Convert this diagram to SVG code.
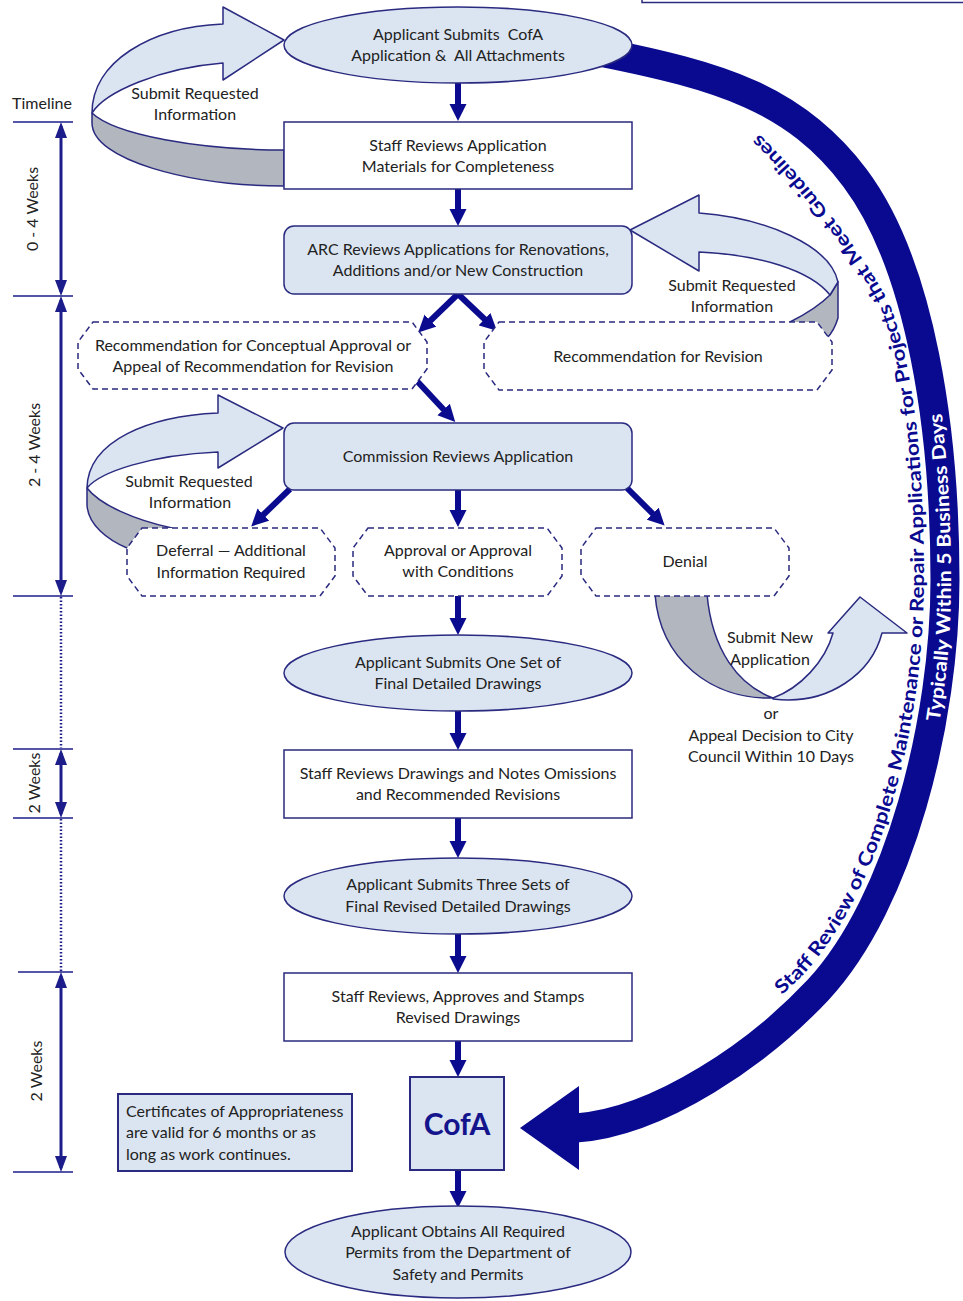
<svg xmlns="http://www.w3.org/2000/svg" width="963" height="1301" viewBox="0 0 963 1301">
<style>
.t{font-family:Lato,"Open Sans","Liberation Sans",sans-serif;font-size:16px;fill:#222;text-anchor:middle}
.tl{text-anchor:start}
.n{stroke:#2a2a80;stroke-width:1.5}
.lf{fill:#dbe5f1}
.wf{fill:#fff}
.dash{fill:#fff;stroke:#2a2a80;stroke-width:1.5;stroke-dasharray:6 4}
.flow{stroke:#0b0b8f;stroke-width:6;fill:none;marker-end:url(#ah)}
.loopL{fill:#dbe5f1;stroke:#2a2a80;stroke-width:1.5;stroke-linejoin:round}
.loopG{fill:#b2b6be;stroke:#2a2a80;stroke-width:1.5;stroke-linejoin:round}
.tick{stroke:#1c1c8a;stroke-width:1.5}
.tline{stroke:#1c1c8a;stroke-width:3;marker-start:url(#th);marker-end:url(#th)}
.dot{stroke:#1c1c8a;stroke-width:2.5;stroke-dasharray:1.5 2}
.arct{font-family:Lato,"Open Sans","Liberation Sans",sans-serif;font-weight:bold;font-size:19px}
</style>
<defs>
<marker id="ah" markerUnits="userSpaceOnUse" markerWidth="18" markerHeight="18" viewBox="0 0 18 18" refX="2" refY="9" orient="auto"><path d="M0,0.5 L17,9 L0,17.5 Z" fill="#0b0b8f"/></marker>
<marker id="th" markerUnits="userSpaceOnUse" markerWidth="16" markerHeight="12" viewBox="0 0 16 12" refX="12" refY="6" orient="auto-start-reverse"><path d="M0,0 L16,6 L0,12 Z" fill="#1c1c8a"/></marker>
<path id="blueTextPath" d="M782,995 L802,976 C884,888 924,720 924,580 C924,470 915,370 890,305 C863,250 792,162 748,124"/>
<path id="whiteTextPath" d="M939.5,722 C949,660 951,620 951,580 C951,520 948,470 941,405"/>
</defs>
<rect width="963" height="1301" fill="#fff"/>
<rect x="642" y="-20" width="340" height="22.5" fill="#fff" stroke="#2a2a80" stroke-width="1.5"/>

<g id="connectors">
  <path d="M600,52 C720,76 795,98 855,178 C921,266 945,430 945,580 C945,720 900,902 818,990 C760,1052 660,1122 576,1128" fill="none" stroke="#0a0a91" stroke-width="29"/>
  <polygon points="520,1128 579,1086 579,1170" fill="#0a0a91"/>
  <text class="arct" fill="#0a0a91"><textPath href="#blueTextPath" textLength="945" lengthAdjust="spacingAndGlyphs">Staff Review of Complete Maintenance or Repair Applications for Projects that Meet Guidelines</textPath></text>
  <text class="arct" fill="#fff"><textPath href="#whiteTextPath" textLength="310" lengthAdjust="spacingAndGlyphs">Typically Within 5 Business Days</textPath></text>

  <path class="loopG" d="M92,113 C115,135 200,150 284,150 L284,186 C190,186 92,160 92,123 Z"/>
  <path class="loopL" d="M284,40 L223,7 L223,24 C150,27 92,62 92,113 C105,92 160,68 223,63 L223,80 Z"/>
  <text class="t" x="195" y="99">Submit Requested</text>
  <text class="t" x="195" y="120">Information</text>

  <path class="loopG" d="M838,282 L838,318 C835,328 831,334 827,338 L790,322 C808,313 822,303 830,295 Z"/>
  <path class="loopL" d="M630,230 L699,195 L699,213 C765,218 830,245 838,282 L830,295 C810,270 760,255 699,252 L699,271 Z"/>
  <text class="t" x="732" y="291">Submit Requested</text>
  <text class="t" x="732" y="312">Information</text>

  <path class="loopG" d="M87,488 C100,505 135,520 172,528 L127,548 C108,540 88,525 87,505 Z"/>
  <path class="loopL" d="M283,428 L218,395 L218,413 C150,416 88,440 87,488 C100,472 150,455 218,452 L218,468 Z"/>
  <text class="t" x="189" y="487">Submit Requested</text>
  <text class="t" x="190" y="508">Information</text>

  <path class="loopG" d="M655,594 L707,594 C712,650 738,685 773,698 C712,700 660,660 655,594 Z"/>
  <path class="loopL" d="M773,698 C800,688 825,662 833,633 L828,633 L860,597 L907,633 L882,633 C872,672 830,706 773,699 Z"/>
  <text class="t" x="770" y="643">Submit New</text>
  <text class="t" x="770" y="665">Application</text>
  <text class="t" x="771" y="719">or</text>
  <text class="t" x="771" y="741">Appeal Decision to City</text>
  <text class="t" x="771" y="762">Council Within 10 Days</text>

  <line class="flow" x1="458" y1="83" x2="458" y2="106"/>
  <line class="flow" x1="458" y1="189" x2="458" y2="211"/>
  <line class="flow" x1="458" y1="294" x2="429" y2="322"/>
  <line class="flow" x1="458" y1="294" x2="486" y2="320.5"/>
  <line class="flow" x1="416" y1="380" x2="445" y2="411"/>
  <line class="flow" x1="290" y1="489" x2="262" y2="516"/>
  <line class="flow" x1="458" y1="490" x2="458" y2="512"/>
  <line class="flow" x1="627" y1="488" x2="654" y2="515"/>
  <line class="flow" x1="458" y1="596" x2="458" y2="620"/>
  <line class="flow" x1="458" y1="711" x2="458" y2="735"/>
  <line class="flow" x1="458" y1="818" x2="458" y2="843"/>
  <line class="flow" x1="458" y1="934" x2="458" y2="958"/>
  <line class="flow" x1="458" y1="1041" x2="458" y2="1062"/>
  <line class="flow" x1="458" y1="1170" x2="458" y2="1193"/>
</g>

<g id="timeline">
  <text class="t" x="42" y="109">Timeline</text>
  <line class="tick" x1="13" y1="122" x2="73" y2="122"/>
  <line class="tick" x1="13" y1="296" x2="73" y2="296"/>
  <line class="tick" x1="13" y1="596" x2="73" y2="596"/>
  <line class="tick" x1="13" y1="749" x2="73" y2="749"/>
  <line class="tick" x1="13" y1="818" x2="73" y2="818"/>
  <line class="tick" x1="18" y1="972" x2="73" y2="972"/>
  <line class="tick" x1="13" y1="1172" x2="73" y2="1172"/>
  <line class="tline" x1="61" y1="126" x2="61" y2="292"/>
  <line class="tline" x1="61" y1="300" x2="61" y2="592"/>
  <line class="tline" x1="61" y1="753" x2="61" y2="814"/>
  <line class="tline" x1="61" y1="976" x2="61" y2="1168"/>
  <line class="dot" x1="61" y1="597" x2="61" y2="748"/>
  <line class="dot" x1="61" y1="819" x2="61" y2="971"/>
  <text class="t" transform="translate(38,209) rotate(-90)">0 - 4 Weeks</text>
  <text class="t" transform="translate(40,445) rotate(-90)">2 - 4 Weeks</text>
  <text class="t" transform="translate(40,783) rotate(-90)">2 Weeks</text>
  <text class="t" transform="translate(42,1071) rotate(-90)">2 Weeks</text>
</g>

<g id="n1"><ellipse class="n lf" cx="458" cy="45" rx="174" ry="38"/>
  <text class="t" x="458" y="40" xml:space="preserve">Applicant Submits  CofA</text>
  <text class="t" x="458" y="61" xml:space="preserve">Application &amp;  All Attachments</text></g>
<g id="n2"><rect class="n wf" x="284" y="122" width="348" height="67"/>
  <text class="t" x="458" y="151">Staff Reviews Application</text>
  <text class="t" x="458" y="172">Materials for Completeness</text></g>
<g id="n3"><rect class="n lf" x="284" y="226" width="348" height="68" rx="10"/>
  <text class="t" x="458" y="255">ARC Reviews Applications for Renovations,</text>
  <text class="t" x="458" y="276">Additions and/or New Construction</text></g>
<g id="n4"><path class="dash" d="M93,322 H412 L427,342 V369 L412,389 H93 L78,369 V342 Z"/>
  <text class="t" x="253" y="351">Recommendation for Conceptual Approval or</text>
  <text class="t" x="253" y="372">Appeal of Recommendation for Revision</text></g>
<g id="n5"><path class="dash" d="M499,322 H817 L832,342 V370 L817,390 H499 L484,370 V342 Z"/>
  <text class="t" x="658" y="362">Recommendation for Revision</text></g>
<g id="n6"><rect class="n lf" x="284" y="423" width="348" height="67" rx="10"/>
  <text class="t" x="458" y="462">Commission Reviews Application</text></g>
<g id="n7"><path class="dash" d="M142,528 H320 L335,548 V576 L320,596 H142 L127,576 V548 Z"/>
  <text class="t" x="231" y="556">Deferral — Additional</text>
  <text class="t" x="231" y="578">Information Required</text></g>
<g id="n8"><path class="dash" d="M368,528 H547 L562,548 V576 L547,596 H368 L353,576 V548 Z"/>
  <text class="t" x="458" y="556">Approval or Approval</text>
  <text class="t" x="458" y="577">with Conditions</text></g>
<g id="n9"><path class="dash" d="M596,528 H774 L789,548 V576 L774,596 H596 L581,576 V548 Z"/>
  <text class="t" x="685" y="567">Denial</text></g>
<g id="n10"><ellipse class="n lf" cx="458" cy="673" rx="174" ry="38"/>
  <text class="t" x="458" y="668">Applicant Submits One Set of</text>
  <text class="t" x="458" y="689">Final Detailed Drawings</text></g>
<g id="n11"><rect class="n wf" x="284" y="750" width="348" height="68"/>
  <text class="t" x="458" y="779">Staff Reviews Drawings and Notes Omissions</text>
  <text class="t" x="458" y="800">and Recommended Revisions</text></g>
<g id="n12"><ellipse class="n lf" cx="458" cy="896" rx="174" ry="38"/>
  <text class="t" x="458" y="890">Applicant Submits Three Sets of</text>
  <text class="t" x="458" y="912">Final Revised Detailed Drawings</text></g>
<g id="n13"><rect class="n wf" x="284" y="973" width="348" height="68"/>
  <text class="t" x="458" y="1002">Staff Reviews, Approves and Stamps</text>
  <text class="t" x="458" y="1023">Revised Drawings</text></g>
<g id="n14"><rect class="lf" x="410" y="1077" width="94" height="93" stroke="#2a2a80" stroke-width="2"/>
  <text x="457" y="1135" text-anchor="middle" font-family="Lato,'Open Sans','Liberation Sans',sans-serif" font-weight="bold" font-size="30" fill="#14148c">CofA</text></g>
<g id="n15"><ellipse class="n lf" cx="458" cy="1252" rx="173" ry="46"/>
  <text class="t" x="458" y="1237">Applicant Obtains All Required</text>
  <text class="t" x="458" y="1258">Permits from the Department of</text>
  <text class="t" x="458" y="1280">Safety and Permits</text></g>
<g id="note"><rect class="lf" x="118" y="1094" width="234" height="77" stroke="#2a2a80" stroke-width="2"/>
  <text class="t tl" x="126" y="1117">Certificates of Appropriateness</text>
  <text class="t tl" x="126" y="1138">are valid for 6 months or as</text>
  <text class="t tl" x="126" y="1160">long as work continues.</text></g>
</svg>
